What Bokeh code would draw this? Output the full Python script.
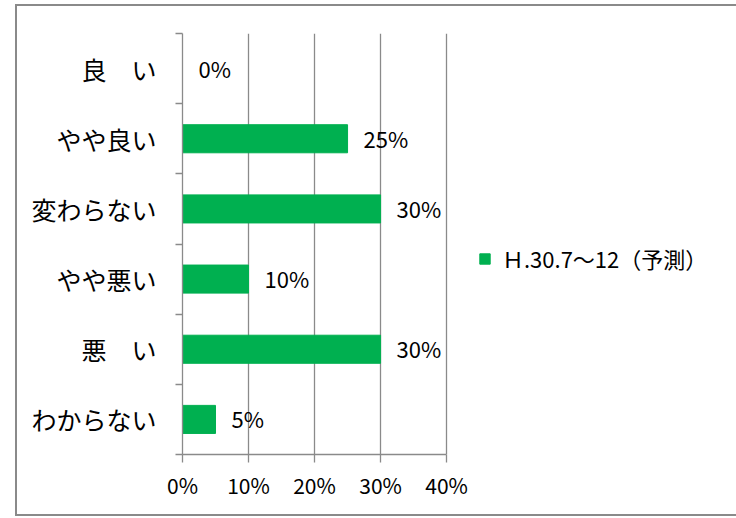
from bokeh.plotting import figure
from bokeh.models import (FixedTicker, PrintfTickFormatter, ColumnDataSource,
                          Legend, LegendItem, Range1d)
from bokeh.embed import file_html
from bokeh.resources import INLINE
from bokeh.core.properties import value

# ---- data ----
categories = ["良　い", "やや良い", "変わらない", "やや悪い", "悪　い", "わからない"]
values = [0, 25, 30, 10, 30, 5]
x_ticks = [0, 10, 20, 30, 40]
series_name = "Ｈ.30.7～12（予測）"

FONT = "Noto Sans CJK JP"
GRAY = "#8a8a8a"
GREEN = "#00B050"

n = len(categories)
ypos = [n - i - 0.5 for i in range(n)]
labels = [f"{v}%" for v in values]
src = ColumnDataSource(dict(y=ypos, v=values, lab=labels, cat=categories))

p = figure(width=721, height=512, output_backend="svg", toolbar_location=None,
           x_range=Range1d(0, 82.7), y_range=Range1d(0, n),
           min_border_left=165, min_border_right=10,
           min_border_top=27, min_border_bottom=64)
p.styles = {"border-left": f"2px solid {GRAY}", "border-top": f"2px solid {GRAY}",
            "border-bottom": f"2px solid {GRAY}", "box-sizing": "border-box",
            "margin-left": "15px", "margin-top": "4px"}
p.outline_line_color = None
p.background_fill_color = "white"
p.border_fill_color = "white"

bars = p.hbar(y="y", left=0, right="v", height=0.4, source=src,
              fill_color=GREEN, line_color=GREEN)

p.text(x="v", y="y", text="lab", source=src, x_offset=16, y_offset=-1,
       text_baseline="middle", text_align="left",
       text_font=value(FONT), text_font_size="22px", text_color="black")

# y axis
yax = p.yaxis[0]
yax.ticker = FixedTicker(ticks=ypos, minor_ticks=list(range(n + 1)))
yax.major_label_overrides = {y: c for y, c in zip(ypos, categories)}
yax.major_tick_line_color = None
yax.minor_tick_line_color = GRAY
yax.minor_tick_line_width = 1.3
yax.minor_tick_out = 7
yax.minor_tick_in = 0
yax.axis_line_color = GRAY
yax.axis_line_width = 1.3
yax.major_label_text_font = FONT
yax.major_label_text_font_size = "25px"
yax.major_label_text_color = "black"
yax.major_label_standoff = 19

# x axis
xax = p.xaxis[0]
xax.ticker = FixedTicker(ticks=x_ticks, minor_ticks=[])
xax.bounds = (x_ticks[0], x_ticks[-1])
xax.formatter = PrintfTickFormatter(format="%d%%")
xax.major_tick_line_color = GRAY
xax.major_tick_line_width = 1.3
xax.major_tick_out = 8
xax.major_tick_in = 0
xax.minor_tick_line_color = None
xax.axis_line_color = GRAY
xax.axis_line_width = 1.3
xax.major_label_text_font = FONT
xax.major_label_text_font_size = "21px"
xax.major_label_text_color = "black"
xax.major_label_standoff = 7

p.ygrid.visible = False
p.xgrid.grid_line_color = GRAY
p.xgrid.grid_line_width = 1.3

legend = Legend(items=[LegendItem(label=value(series_name), renderers=[bars])],
                location=(296, 180), glyph_width=13, glyph_height=13,
                label_text_font=FONT, label_text_font_size="22px",
                label_text_color="black", label_standoff=11,
                border_line_color=None, background_fill_alpha=0,
                padding=0, margin=0, spacing=0)
p.add_layout(legend)

open("out.html", "w").write(file_html(p, INLINE))
